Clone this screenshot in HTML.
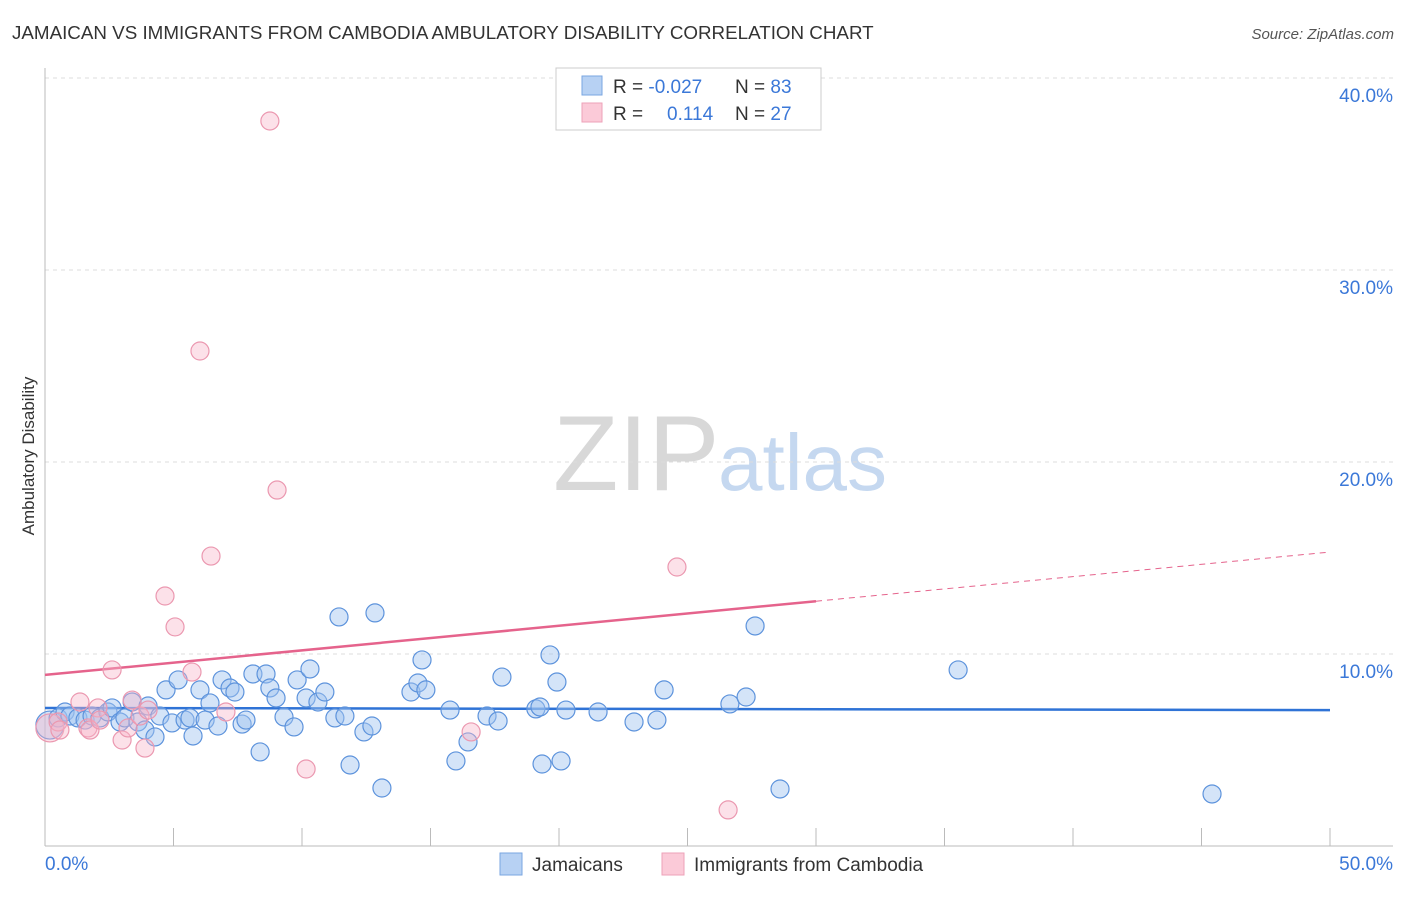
<!DOCTYPE html>
<html><head><meta charset="utf-8"><style>
body{margin:0;background:#fff;font-family:"Liberation Sans",sans-serif;}
svg text{font-family:"Liberation Sans",sans-serif;}
</style></head><body>
<svg id="chart" width="1406" height="892" viewBox="0 0 1406 892" xmlns="http://www.w3.org/2000/svg">
<text x="12" y="39" font-size="18.8" fill="#333">JAMAICAN VS IMMIGRANTS FROM CAMBODIA AMBULATORY DISABILITY CORRELATION CHART</text>
<text x="1394" y="39" font-size="15" fill="#555" text-anchor="end" font-style="italic">Source: ZipAtlas.com</text>
<g>
<text x="553" y="490" font-size="107" fill="#d8d8d8" font-family="Liberation Serif, serif">ZIP</text>
<text x="718" y="490" font-size="80" fill="#c5d8f0">atlas</text>
</g>
<g id="grid"></g>
<g id="axes"></g>
<g id="trends"></g>
<g id="pts"></g>
<text transform="translate(34,456) rotate(-90)" font-size="17" fill="#333" text-anchor="middle">Ambulatory Disability</text>
<g>
<rect x="556" y="68" width="265" height="62" fill="#fff" stroke="#ccc"/>
<rect x="582" y="76" width="20" height="19" fill="#b7d1f3" stroke="#7aa6e0"/>
<rect x="582" y="103" width="20" height="19" fill="#fbcad8" stroke="#eea2b8"/>
<text x="613" y="93" font-size="19" fill="#333">R = <tspan fill="#3b78d8">-0.027</tspan></text>
<text x="735" y="93" font-size="19" fill="#333">N = <tspan fill="#3b78d8">83</tspan></text>
<text x="613" y="120" font-size="19" fill="#333">R = <tspan x="667" fill="#3b78d8">0.114</tspan></text>
<text x="735" y="120" font-size="19" fill="#333">N = <tspan fill="#3b78d8">27</tspan></text>
</g>
<g>
<rect x="500" y="853" width="22" height="22" fill="#b7d1f3" stroke="#7aa6e0"/>
<text x="532" y="871" font-size="19" fill="#333">Jamaicans</text>
<rect x="662" y="853" width="22" height="22" fill="#fbcad8" stroke="#eea2b8"/>
<text x="694" y="871" font-size="19" fill="#333">Immigrants from Cambodia</text>
</g>
</svg>
<script>
const blueX=[0.19,0.51,0.78,0.97,1.28,1.56,1.83,2.14,2.45,2.61,2.92,3.11,3.39,3.62,3.89,4.01,4.28,4.47,4.71,4.94,5.18,5.45,5.64,5.76,6.03,6.23,6.42,6.73,6.89,7.20,7.39,7.67,7.82,8.09,8.37,8.60,8.75,8.99,9.30,9.69,9.81,10.16,10.31,10.62,10.89,11.28,11.44,11.67,11.87,12.41,12.72,12.84,13.11,14.24,14.51,14.67,14.82,15.76,15.99,16.46,17.20,17.63,17.78,19.10,19.26,19.34,19.65,19.92,20.08,20.27,21.52,22.92,23.81,24.09,26.65,27.28,27.63,28.60,35.53,45.41];
const blueY=[6.30,6.67,6.98,6.77,6.67,6.56,6.77,6.67,6.98,7.19,6.46,6.67,7.50,6.46,6.04,7.29,5.68,6.77,8.13,6.41,8.65,6.56,6.67,5.73,8.13,6.56,7.45,6.25,8.65,8.23,8.02,6.35,6.56,8.96,4.90,8.96,8.23,7.71,6.72,6.20,8.65,7.71,9.22,7.50,8.02,6.67,11.93,6.77,4.22,5.94,6.25,12.14,3.02,8.02,8.49,9.69,8.13,7.08,4.43,5.42,6.77,6.51,8.80,7.14,7.24,4.27,9.95,8.54,4.43,7.08,6.98,6.46,6.56,8.13,7.40,7.76,11.46,2.97,9.17,2.71];
const pinkX=[0.19,0.51,0.58,1.36,1.67,1.75,2.06,2.14,2.61,3.00,3.23,3.39,3.70,3.89,4.01,4.67,5.06,5.72,6.03,6.46,7.04,8.75,9.03,10.16,16.58,24.59,26.58];
const pinkY=[6.15,6.46,6.04,7.50,6.15,6.04,7.19,6.56,9.17,5.52,6.15,7.60,6.77,5.10,7.08,13.02,11.41,9.06,25.78,15.10,6.98,37.76,18.54,4.01,5.94,14.53,1.88];
const blueTrend=[7.19,7.08];
const pinkTrend=[8.91,15.31];
const pinkSolidEnd=30;
const yTicks=[10,20,30,40];
const yTickLabels=["10.0%","20.0%","30.0%","40.0%"];
const xTicks=[0,5,10,15,20,25,30,35,40,45,50];
const xTickLabels=["0.0%","50.0%"];

const NS="http://www.w3.org/2000/svg";
const sx=v=>45+v/50*1285;
const sy=v=>846-v/10*192;
function mk(tag,attrs,parent){const e=document.createElementNS(NS,tag);for(const k in attrs)e.setAttribute(k,attrs[k]);parent.appendChild(e);return e;}
const grid=document.getElementById('grid'),axes=document.getElementById('axes'),tr=document.getElementById('trends'),pts=document.getElementById('pts');
yTicks.forEach((t,i)=>{
  const l=mk('line',{x1:45,x2:1393,y1:sy(t),y2:sy(t),stroke:'#ddd','stroke-dasharray':'4,4'},grid);
  
  
  const tx=mk('text',{x:1393,y:sy(t)+24,'font-size':19,fill:'#3b78d8','text-anchor':'end'},axes);
  tx.textContent=yTickLabels[i];
  
  
});
const ya=mk('line',{x1:45,x2:45,y1:68,y2:846,stroke:'#bbb'},axes);


const xa=mk('line',{x1:45,x2:1393,y1:846,y2:846,stroke:'#bbb'},axes);


xTicks.forEach(t=>{
  const l=mk('line',{x1:sx(t),x2:sx(t),y1:828,y2:846,stroke:'#bbb'},axes);
  
  
});
const xl0=mk('text',{x:45,y:870,'font-size':19,fill:'#3b78d8'},axes);
xl0.textContent=xTickLabels[0];


const xl1=mk('text',{x:1393,y:870,'font-size':19,fill:'#3b78d8','text-anchor':'end'},axes);
xl1.textContent=xTickLabels[1];



function drawPts(X,Y,fill,stroke,name){
  X.forEach((x,i)=>{
    const r=(x<0.3)?14:9;
    const c=mk('circle',{cx:sx(x),cy:sy(Y[i]),r:r,fill:fill,stroke:stroke,'stroke-width':1.2},pts);
    
    
  });
}
drawPts(blueX,blueY,'rgba(160,195,240,0.45)','#5d93dc','jamaican-point');
drawPts(pinkX,pinkY,'rgba(248,180,200,0.4)','#eb98b0','cambodia-point');

const bt=mk('line',{x1:sx(0),y1:sy(blueTrend[0]),x2:sx(50),y2:sy(blueTrend[1]),stroke:'#2f73d6','stroke-width':2.5},tr);


const pAt=x=>pinkTrend[0]+(pinkTrend[1]-pinkTrend[0])*x/50;
const pt=mk('line',{x1:sx(0),y1:sy(pAt(0)),x2:sx(pinkSolidEnd),y2:sy(pAt(pinkSolidEnd)),stroke:'#e5638c','stroke-width':2.5},tr);


const pd=mk('line',{x1:sx(pinkSolidEnd),y1:sy(pAt(pinkSolidEnd)),x2:sx(50),y2:sy(pAt(50)),stroke:'#e5638c','stroke-width':1,'stroke-dasharray':'6,5'},tr);


</script>
</body></html>
